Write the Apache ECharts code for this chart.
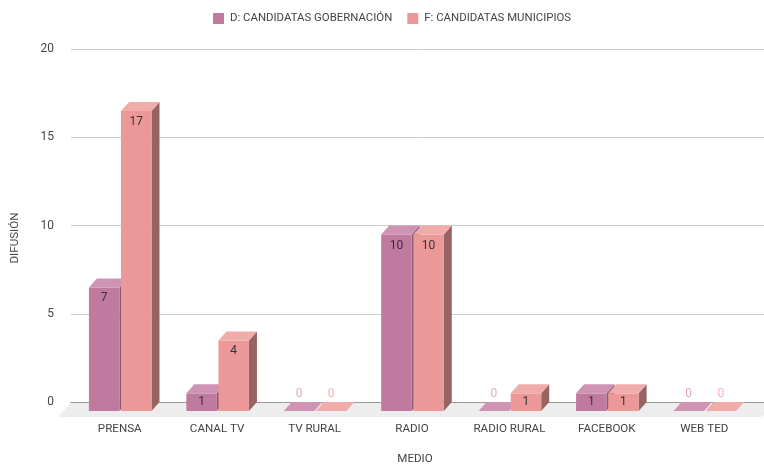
<!DOCTYPE html>
<html>
<head>
<meta charset="utf-8">
<style>html,body{margin:0;padding:0;background:#fff}#chart{width:764px;height:464px}</style>
<script src="https://cdn.jsdelivr.net/npm/echarts@6/dist/echarts.min.js"></script>
</head>
<body>
<div id="chart"></div>
<script>
var categories = ['PRENSA', 'CANAL TV', 'TV RURAL', 'RADIO', 'RADIO RURAL', 'FACEBOOK', 'WEB TED'];
var candidatasGobernacion = [7, 1, 0, 10, 0, 1, 0];
var candidatasMunicipios = [17, 4, 0, 10, 1, 1, 0];
var legendNames = ['D: CANDIDATAS GOBERNACIÓN', 'F: CANDIDATAS MUNICIPIOS'];

var FONT = 'Roboto, sans-serif';
var TEXT = '#444';
var DEPTH_X = 8;
var DEPTH_Y = 9;

// barra 3D: cara frontal, lateral y superior
function bar3d(side, front, top, dark, zeroColor) {
    return function (params, api) {
        var band = api.size([1, 0])[0];
        var w = band * 0.313;
        var base = api.coord([api.value(0), 0]);
        var head = api.coord([api.value(0), api.value(1)]);
        var x = base[0] + 0.5 + (side < 0 ? -w - 0.8 : 0.8);
        var y0 = base[1] + DEPTH_Y;
        var y1 = head[1] + DEPTH_Y;
        var h = y0 - y1;
        var children = [];
        if (h > 0) {
            children.push({
                type: 'polygon',
                shape: {points: [[x + w, y0], [x + w + DEPTH_X, y0 - DEPTH_Y], [x + w + DEPTH_X, y1 - DEPTH_Y], [x + w, y1]]},
                style: {fill: dark}
            });
            children.push({type: 'rect', shape: {x: x, y: y1, width: w, height: h}, style: {fill: front}});
        }
        children.push({
            type: 'polygon',
            shape: {points: [[x, y1], [x + DEPTH_X, y1 - DEPTH_Y], [x + w + DEPTH_X, y1 - DEPTH_Y], [x + w, y1]]},
            style: {fill: top}
        });
        children.push({
            type: 'text',
            style: {
                text: String(api.value(1)),
                x: x + w / 2,
                y: h > 0 ? y1 + Math.min(11, h / 2) : y1 - 17.5,
                align: 'center',
                verticalAlign: 'middle',
                fill: h > 0 ? '#333' : zeroColor,
                font: '12px ' + FONT
            }
        });
        return {type: 'group', children: children};
    };
}

function floorItem(params, api) {
    var a = api.coord([0, 0]);
    var b = api.coord([1, 0]);
    return {
        type: 'polygon',
        shape: {points: [[a[0], a[1] + 0.5], [b[0], b[1] + 0.5], [b[0], b[1] + 13], [b[0] - 3, b[1] + 15], [a[0] - 13, a[1] + 15]]},
        style: {fill: '#ededed'}
    };
}

function pairs(values) {
    return values.map(function (v, i) {
        return [i, v];
    });
}

var myChart = echarts.init(document.getElementById('chart'), null, {renderer: 'canvas'});
var option = {
    animation: false,
    backgroundColor: '#fff',
    textStyle: {fontFamily: FONT},
    legend: {
        data: legendNames,
        top: 8,
        left: 208,
        itemWidth: 11,
        itemHeight: 11,
        itemGap: 15,
        icon: 'rect',
        textStyle: {color: TEXT, fontSize: 11.4, fontFamily: FONT, padding: [0, 0, 0, 1]}
    },
    grid: [
        {left: 71, right: 11, top: 49, bottom: 62, outerBoundsMode: 'none'},
        {left: 71, right: 0, top: 49, bottom: 62, outerBoundsMode: 'none'}
    ],
    xAxis: [{
        type: 'category',
        gridIndex: 0,
        data: categories,
        name: 'MEDIO',
        nameLocation: 'middle',
        nameGap: 51,
        nameTextStyle: {color: TEXT, fontSize: 11.6, fontFamily: FONT, padding: [0, 0, 0, 6]},
        axisLine: {show: false},
        axisTick: {show: false},
        axisLabel: {color: TEXT, fontSize: 11.6, fontFamily: FONT, margin: 21, interval: 0}
    }, {
        type: 'value',
        gridIndex: 1,
        min: 0,
        max: 1,
        axisLine: {show: true, onZero: false, lineStyle: {color: '#444', width: 1}},
        axisTick: {show: false},
        axisLabel: {show: false},
        splitLine: {show: false}
    }],
    yAxis: [{
        type: 'value',
        gridIndex: 0,
        min: 0,
        max: 20,
        interval: 5,
        axisLine: {show: false},
        axisTick: {show: false},
        axisLabel: {show: false},
        splitLine: {show: false}
    }, {
        type: 'value',
        gridIndex: 1,
        min: 0,
        max: 20,
        interval: 5,
        name: 'DIFUSIÓN',
        nameLocation: 'middle',
        nameGap: 50,
        nameTextStyle: {color: TEXT, fontSize: 11.6, fontFamily: FONT, padding: [0, 25, 0, 0]},
        axisLine: {show: false},
        axisTick: {show: false},
        axisLabel: {color: TEXT, fontSize: 12, fontFamily: FONT, margin: 17},
        splitLine: {lineStyle: {color: '#ccc', width: 1}}
    }],
    series: [{
        type: 'custom',
        name: 'suelo',
        xAxisIndex: 1,
        yAxisIndex: 1,
        z: 1,
        silent: true,
        clip: false,
        renderItem: floorItem,
        data: [[0, 0]]
    }, {
        type: 'custom',
        name: legendNames[0],
        xAxisIndex: 0,
        yAxisIndex: 0,
        z: 3,
        clip: false,
        itemStyle: {color: '#c0799f'},
        renderItem: bar3d(-1, '#c0799f', '#cf94b4', '#8a5772', '#e0a8c6'),
        encode: {x: 0, y: 1},
        data: pairs(candidatasGobernacion)
    }, {
        type: 'custom',
        name: legendNames[1],
        xAxisIndex: 0,
        yAxisIndex: 0,
        z: 4,
        clip: false,
        itemStyle: {color: '#ec9898'},
        renderItem: bar3d(1, '#ec9898', '#f0abab', '#976363', '#f4b3b3'),
        encode: {x: 0, y: 1},
        data: pairs(candidatasMunicipios)
    }]
};
myChart.setOption(option, true);
</script>
</body>
</html>
